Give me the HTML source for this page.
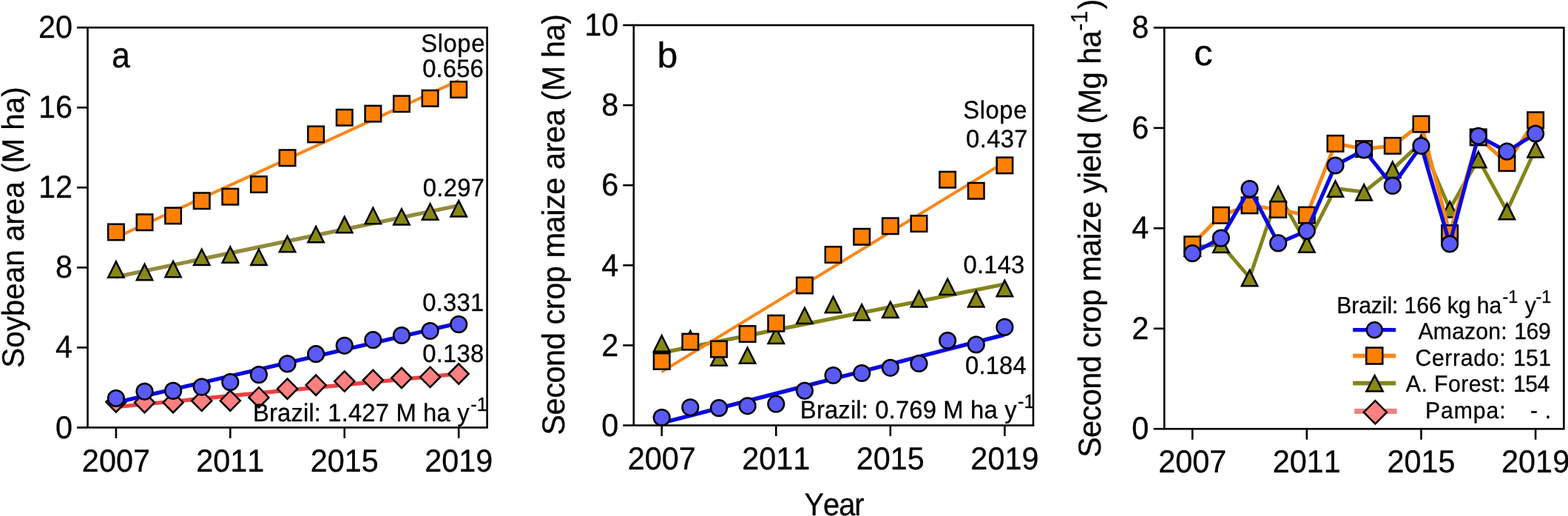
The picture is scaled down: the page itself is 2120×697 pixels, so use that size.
<!DOCTYPE html>
<html lang="en">
<head>
<meta charset="utf-8">
<title>Figure</title>
<style>html,body{margin:0;padding:0;background:#fff;}body{width:2120px;height:697px;overflow:hidden;}svg{display:block;}</style>
</head>
<body>
<svg width="2120" height="697" viewBox="0 0 2120 697" font-family='"Liberation Sans", Arial, sans-serif' fill="#000" style="font-kerning:none" text-rendering="geometricPrecision">
<style>text{stroke:#000;stroke-width:0.3px;stroke-linejoin:round}</style>
<rect width="2120" height="697" fill="#fff"/>
<g id="panel-a">
<polygon points="156.90,546.94 620.20,502.24 620.20,507.56 156.90,552.26" fill="#ee4040"/>
<polygon points="143.36,543.00 156.90,529.33 170.44,543.00 156.90,556.67" fill="#ff8080" stroke="#000" stroke-width="2.5" stroke-linejoin="miter"/>
<polygon points="181.97,543.70 195.51,530.03 209.05,543.70 195.51,557.37" fill="#ff8080" stroke="#000" stroke-width="2.5" stroke-linejoin="miter"/>
<polygon points="220.58,543.70 234.12,530.03 247.66,543.70 234.12,557.37" fill="#ff8080" stroke="#000" stroke-width="2.5" stroke-linejoin="miter"/>
<polygon points="259.18,541.40 272.73,527.73 286.27,541.40 272.73,555.07" fill="#ff8080" stroke="#000" stroke-width="2.5" stroke-linejoin="miter"/>
<polygon points="297.79,541.30 311.33,527.63 324.87,541.30 311.33,554.97" fill="#ff8080" stroke="#000" stroke-width="2.5" stroke-linejoin="miter"/>
<polygon points="336.40,536.90 349.94,523.23 363.48,536.90 349.94,550.57" fill="#ff8080" stroke="#000" stroke-width="2.5" stroke-linejoin="miter"/>
<polygon points="375.01,525.20 388.55,511.53 402.09,525.20 388.55,538.87" fill="#ff8080" stroke="#000" stroke-width="2.5" stroke-linejoin="miter"/>
<polygon points="413.62,520.20 427.16,506.53 440.70,520.20 427.16,533.87" fill="#ff8080" stroke="#000" stroke-width="2.5" stroke-linejoin="miter"/>
<polygon points="452.23,515.10 465.77,501.43 479.31,515.10 465.77,528.77" fill="#ff8080" stroke="#000" stroke-width="2.5" stroke-linejoin="miter"/>
<polygon points="490.83,513.50 504.38,499.83 517.92,513.50 504.38,527.17" fill="#ff8080" stroke="#000" stroke-width="2.5" stroke-linejoin="miter"/>
<polygon points="529.44,510.50 542.98,496.83 556.52,510.50 542.98,524.17" fill="#ff8080" stroke="#000" stroke-width="2.5" stroke-linejoin="miter"/>
<polygon points="568.05,509.40 581.59,495.73 595.13,509.40 581.59,523.07" fill="#ff8080" stroke="#000" stroke-width="2.5" stroke-linejoin="miter"/>
<polygon points="606.66,505.00 620.20,491.33 633.74,505.00 620.20,518.67" fill="#ff8080" stroke="#000" stroke-width="2.5" stroke-linejoin="miter"/>
<polygon points="156.90,371.29 620.20,274.89 620.20,280.31 156.90,376.71" fill="#938a3c"/>
<polygon points="146.22,374.75 167.58,374.75 156.90,353.40" fill="#888812" stroke="#000" stroke-width="2.5" stroke-linejoin="miter"/>
<polygon points="184.83,378.25 206.19,378.25 195.51,356.90" fill="#888812" stroke="#000" stroke-width="2.5" stroke-linejoin="miter"/>
<polygon points="223.44,374.35 244.79,374.35 234.12,353.00" fill="#888812" stroke="#000" stroke-width="2.5" stroke-linejoin="miter"/>
<polygon points="262.05,358.05 283.40,358.05 272.73,336.70" fill="#888812" stroke="#000" stroke-width="2.5" stroke-linejoin="miter"/>
<polygon points="300.66,354.85 322.01,354.85 311.33,333.50" fill="#888812" stroke="#000" stroke-width="2.5" stroke-linejoin="miter"/>
<polygon points="339.26,358.05 360.62,358.05 349.94,336.70" fill="#888812" stroke="#000" stroke-width="2.5" stroke-linejoin="miter"/>
<polygon points="377.87,340.35 399.23,340.35 388.55,319.00" fill="#888812" stroke="#000" stroke-width="2.5" stroke-linejoin="miter"/>
<polygon points="416.48,327.35 437.84,327.35 427.16,306.00" fill="#888812" stroke="#000" stroke-width="2.5" stroke-linejoin="miter"/>
<polygon points="455.09,314.25 476.44,314.25 465.77,292.90" fill="#888812" stroke="#000" stroke-width="2.5" stroke-linejoin="miter"/>
<polygon points="493.70,302.15 515.05,302.15 504.38,280.80" fill="#888812" stroke="#000" stroke-width="2.5" stroke-linejoin="miter"/>
<polygon points="532.31,303.55 553.66,303.55 542.98,282.20" fill="#888812" stroke="#000" stroke-width="2.5" stroke-linejoin="miter"/>
<polygon points="570.91,296.65 592.27,296.65 581.59,275.30" fill="#888812" stroke="#000" stroke-width="2.5" stroke-linejoin="miter"/>
<polygon points="609.52,292.45 630.88,292.45 620.20,271.10" fill="#888812" stroke="#000" stroke-width="2.5" stroke-linejoin="miter"/>
<polygon points="156.90,318.55 620.20,106.45 620.20,110.95 156.90,323.05" fill="#fa8618"/>
<rect x="146.15" y="302.75" width="21.50" height="21.50" fill="#ff8000" stroke="#000" stroke-width="2.5"/>
<rect x="184.76" y="289.55" width="21.50" height="21.50" fill="#ff8000" stroke="#000" stroke-width="2.5"/>
<rect x="223.37" y="280.65" width="21.50" height="21.50" fill="#ff8000" stroke="#000" stroke-width="2.5"/>
<rect x="261.98" y="260.55" width="21.50" height="21.50" fill="#ff8000" stroke="#000" stroke-width="2.5"/>
<rect x="300.58" y="254.95" width="21.50" height="21.50" fill="#ff8000" stroke="#000" stroke-width="2.5"/>
<rect x="339.19" y="238.35" width="21.50" height="21.50" fill="#ff8000" stroke="#000" stroke-width="2.5"/>
<rect x="377.80" y="202.55" width="21.50" height="21.50" fill="#ff8000" stroke="#000" stroke-width="2.5"/>
<rect x="416.41" y="170.65" width="21.50" height="21.50" fill="#ff8000" stroke="#000" stroke-width="2.5"/>
<rect x="455.02" y="148.05" width="21.50" height="21.50" fill="#ff8000" stroke="#000" stroke-width="2.5"/>
<rect x="493.63" y="142.85" width="21.50" height="21.50" fill="#ff8000" stroke="#000" stroke-width="2.5"/>
<rect x="532.23" y="129.55" width="21.50" height="21.50" fill="#ff8000" stroke="#000" stroke-width="2.5"/>
<rect x="570.84" y="122.05" width="21.50" height="21.50" fill="#ff8000" stroke="#000" stroke-width="2.5"/>
<rect x="609.45" y="110.25" width="21.50" height="21.50" fill="#ff8000" stroke="#000" stroke-width="2.5"/>
<polygon points="156.90,540.98 620.20,433.78 620.20,439.22 156.90,546.42" fill="#0808e0"/>
<circle cx="156.90" cy="538.00" r="10.85" fill="#5a5af6" stroke="#000" stroke-width="2.5"/>
<circle cx="195.51" cy="528.80" r="10.85" fill="#5a5af6" stroke="#000" stroke-width="2.5"/>
<circle cx="234.12" cy="527.90" r="10.85" fill="#5a5af6" stroke="#000" stroke-width="2.5"/>
<circle cx="272.73" cy="522.60" r="10.85" fill="#5a5af6" stroke="#000" stroke-width="2.5"/>
<circle cx="311.33" cy="516.20" r="10.85" fill="#5a5af6" stroke="#000" stroke-width="2.5"/>
<circle cx="349.94" cy="506.10" r="10.85" fill="#5a5af6" stroke="#000" stroke-width="2.5"/>
<circle cx="388.55" cy="491.40" r="10.85" fill="#5a5af6" stroke="#000" stroke-width="2.5"/>
<circle cx="427.16" cy="478.20" r="10.85" fill="#5a5af6" stroke="#000" stroke-width="2.5"/>
<circle cx="465.77" cy="466.80" r="10.85" fill="#5a5af6" stroke="#000" stroke-width="2.5"/>
<circle cx="504.38" cy="459.20" r="10.85" fill="#5a5af6" stroke="#000" stroke-width="2.5"/>
<circle cx="542.98" cy="453.00" r="10.85" fill="#5a5af6" stroke="#000" stroke-width="2.5"/>
<circle cx="581.59" cy="447.00" r="10.85" fill="#5a5af6" stroke="#000" stroke-width="2.5"/>
<circle cx="620.20" cy="438.10" r="10.85" fill="#5a5af6" stroke="#000" stroke-width="2.5"/>
<rect x="118.5" y="37.2" width="540.10" height="540.30" fill="none" stroke="#000" stroke-width="2.6"/>
<line x1="104.0" y1="577.50" x2="118.5" y2="577.50" stroke="#000" stroke-width="2.6"/>
<line x1="104.0" y1="469.44" x2="118.5" y2="469.44" stroke="#000" stroke-width="2.6"/>
<line x1="104.0" y1="361.38" x2="118.5" y2="361.38" stroke="#000" stroke-width="2.6"/>
<line x1="104.0" y1="253.32" x2="118.5" y2="253.32" stroke="#000" stroke-width="2.6"/>
<line x1="104.0" y1="145.26" x2="118.5" y2="145.26" stroke="#000" stroke-width="2.6"/>
<line x1="104.0" y1="37.20" x2="118.5" y2="37.20" stroke="#000" stroke-width="2.6"/>
<line x1="156.90" y1="577.5" x2="156.90" y2="592.0" stroke="#000" stroke-width="2.6"/>
<line x1="311.33" y1="577.5" x2="311.33" y2="592.0" stroke="#000" stroke-width="2.6"/>
<line x1="465.77" y1="577.5" x2="465.77" y2="592.0" stroke="#000" stroke-width="2.6"/>
<line x1="620.20" y1="577.5" x2="620.20" y2="592.0" stroke="#000" stroke-width="2.6"/>
<text transform="translate(98.00,591.50) scale(1.0,1.035)" font-size="41.4" text-anchor="end">0</text>
<text transform="translate(98.00,483.44) scale(1.0,1.035)" font-size="41.4" text-anchor="end">4</text>
<text transform="translate(98.00,375.38) scale(1.0,1.035)" font-size="41.4" text-anchor="end">8</text>
<text transform="translate(98.00,267.32) scale(1.0,1.035)" font-size="41.4" text-anchor="end">12</text>
<text transform="translate(98.00,159.26) scale(1.0,1.035)" font-size="41.4" text-anchor="end">16</text>
<text transform="translate(98.00,51.20) scale(1.0,1.035)" font-size="41.4" text-anchor="end">20</text>
<text transform="translate(156.90,637.20) scale(1.0,1.035)" font-size="41.4" text-anchor="middle">2007</text>
<text transform="translate(311.33,637.20) scale(1.0,1.035)" font-size="41.4" text-anchor="middle">2011</text>
<text transform="translate(465.77,637.20) scale(1.0,1.035)" font-size="41.4" text-anchor="middle">2015</text>
<text transform="translate(620.20,637.20) scale(1.0,1.035)" font-size="41.4" text-anchor="middle">2019</text>
<text transform="translate(31.60,496.75) rotate(-90) scale(1.0,1.035)" font-size="40.3" letter-spacing="0.047">Soybean area (M ha)</text>
<text transform="translate(151.10,91.00) scale(0.96,1.035)" font-size="46.7">a</text>
<text transform="translate(569.35,69.80) scale(1.0,1.035)" font-size="32.8" letter-spacing="0.537">Slope</text>
<text transform="translate(571.25,103.80) scale(1.0,1.035)" font-size="32.8" letter-spacing="0.113">0.656</text>
<text transform="translate(571.75,265.00) scale(1.0,1.035)" font-size="32.8" letter-spacing="0.275">0.297</text>
<text transform="translate(571.25,419.50) scale(1.0,1.035)" font-size="32.8" letter-spacing="0.250">0.331</text>
<text transform="translate(571.25,488.60) scale(1.0,1.035)" font-size="32.8" letter-spacing="0.212">0.138</text>
<text transform="translate(341.95,569.30) scale(1.0,1.035)" font-size="32.8" letter-spacing="0.145">Brazil: 1.427 M ha y</text>
<text transform="translate(636.35,555.40) scale(1.0,1.035)" font-size="25.3">-1</text>
</g>
<g id="panel-b">
<polygon points="894.70,473.80 1358.40,381.20 1358.40,386.60 894.70,479.20" fill="#84841a"/>
<polygon points="884.02,474.65 905.38,474.65 894.70,453.30" fill="#888812" stroke="#000" stroke-width="2.5" stroke-linejoin="miter"/>
<polygon points="922.66,468.45 944.02,468.45 933.34,447.10" fill="#888812" stroke="#000" stroke-width="2.5" stroke-linejoin="miter"/>
<polygon points="961.31,493.65 982.66,493.65 971.98,472.30" fill="#888812" stroke="#000" stroke-width="2.5" stroke-linejoin="miter"/>
<polygon points="999.95,490.85 1021.30,490.85 1010.62,469.50" fill="#888812" stroke="#000" stroke-width="2.5" stroke-linejoin="miter"/>
<polygon points="1038.59,464.05 1059.94,464.05 1049.27,442.70" fill="#888812" stroke="#000" stroke-width="2.5" stroke-linejoin="miter"/>
<polygon points="1077.23,437.05 1098.59,437.05 1087.91,415.70" fill="#888812" stroke="#000" stroke-width="2.5" stroke-linejoin="miter"/>
<polygon points="1115.87,422.15 1137.23,422.15 1126.55,400.80" fill="#888812" stroke="#000" stroke-width="2.5" stroke-linejoin="miter"/>
<polygon points="1154.51,432.55 1175.87,432.55 1165.19,411.20" fill="#888812" stroke="#000" stroke-width="2.5" stroke-linejoin="miter"/>
<polygon points="1193.16,429.05 1214.51,429.05 1203.83,407.70" fill="#888812" stroke="#000" stroke-width="2.5" stroke-linejoin="miter"/>
<polygon points="1231.80,414.45 1253.15,414.45 1242.48,393.10" fill="#888812" stroke="#000" stroke-width="2.5" stroke-linejoin="miter"/>
<polygon points="1270.44,398.05 1291.79,398.05 1281.12,376.70" fill="#888812" stroke="#000" stroke-width="2.5" stroke-linejoin="miter"/>
<polygon points="1309.08,414.45 1330.44,414.45 1319.76,393.10" fill="#888812" stroke="#000" stroke-width="2.5" stroke-linejoin="miter"/>
<polygon points="1347.72,400.25 1369.08,400.25 1358.40,378.90" fill="#888812" stroke="#000" stroke-width="2.5" stroke-linejoin="miter"/>
<polygon points="894.70,499.86 1358.40,216.86 1358.40,221.54 894.70,504.54" fill="#fa8618"/>
<rect x="883.95" y="477.25" width="21.50" height="21.50" fill="#ff8000" stroke="#000" stroke-width="2.5"/>
<rect x="922.59" y="450.95" width="21.50" height="21.50" fill="#ff8000" stroke="#000" stroke-width="2.5"/>
<rect x="961.23" y="460.85" width="21.50" height="21.50" fill="#ff8000" stroke="#000" stroke-width="2.5"/>
<rect x="999.88" y="440.35" width="21.50" height="21.50" fill="#ff8000" stroke="#000" stroke-width="2.5"/>
<rect x="1038.52" y="426.05" width="21.50" height="21.50" fill="#ff8000" stroke="#000" stroke-width="2.5"/>
<rect x="1077.16" y="374.75" width="21.50" height="21.50" fill="#ff8000" stroke="#000" stroke-width="2.5"/>
<rect x="1115.80" y="333.25" width="21.50" height="21.50" fill="#ff8000" stroke="#000" stroke-width="2.5"/>
<rect x="1154.44" y="309.05" width="21.50" height="21.50" fill="#ff8000" stroke="#000" stroke-width="2.5"/>
<rect x="1193.08" y="294.55" width="21.50" height="21.50" fill="#ff8000" stroke="#000" stroke-width="2.5"/>
<rect x="1231.73" y="291.35" width="21.50" height="21.50" fill="#ff8000" stroke="#000" stroke-width="2.5"/>
<rect x="1270.37" y="231.95" width="21.50" height="21.50" fill="#ff8000" stroke="#000" stroke-width="2.5"/>
<rect x="1309.01" y="247.05" width="21.50" height="21.50" fill="#ff8000" stroke="#000" stroke-width="2.5"/>
<rect x="1347.65" y="212.65" width="21.50" height="21.50" fill="#ff8000" stroke="#000" stroke-width="2.5"/>
<polygon points="894.70,568.51 1358.40,449.31 1358.40,454.89 894.70,574.09" fill="#0808e0"/>
<circle cx="894.70" cy="564.00" r="10.85" fill="#5a5af6" stroke="#000" stroke-width="2.5"/>
<circle cx="933.34" cy="550.30" r="10.85" fill="#5a5af6" stroke="#000" stroke-width="2.5"/>
<circle cx="971.98" cy="551.20" r="10.85" fill="#5a5af6" stroke="#000" stroke-width="2.5"/>
<circle cx="1010.62" cy="548.30" r="10.85" fill="#5a5af6" stroke="#000" stroke-width="2.5"/>
<circle cx="1049.27" cy="545.70" r="10.85" fill="#5a5af6" stroke="#000" stroke-width="2.5"/>
<circle cx="1087.91" cy="527.80" r="10.85" fill="#5a5af6" stroke="#000" stroke-width="2.5"/>
<circle cx="1126.55" cy="507.00" r="10.85" fill="#5a5af6" stroke="#000" stroke-width="2.5"/>
<circle cx="1165.19" cy="504.00" r="10.85" fill="#5a5af6" stroke="#000" stroke-width="2.5"/>
<circle cx="1203.83" cy="496.80" r="10.85" fill="#5a5af6" stroke="#000" stroke-width="2.5"/>
<circle cx="1242.48" cy="491.00" r="10.85" fill="#5a5af6" stroke="#000" stroke-width="2.5"/>
<circle cx="1281.12" cy="460.00" r="10.85" fill="#5a5af6" stroke="#000" stroke-width="2.5"/>
<circle cx="1319.76" cy="465.50" r="10.85" fill="#5a5af6" stroke="#000" stroke-width="2.5"/>
<circle cx="1358.40" cy="441.90" r="10.85" fill="#5a5af6" stroke="#000" stroke-width="2.5"/>
<rect x="856.8" y="34.0" width="540.20" height="540.60" fill="none" stroke="#000" stroke-width="2.6"/>
<line x1="842.3" y1="574.60" x2="856.8" y2="574.60" stroke="#000" stroke-width="2.6"/>
<line x1="842.3" y1="466.48" x2="856.8" y2="466.48" stroke="#000" stroke-width="2.6"/>
<line x1="842.3" y1="358.36" x2="856.8" y2="358.36" stroke="#000" stroke-width="2.6"/>
<line x1="842.3" y1="250.24" x2="856.8" y2="250.24" stroke="#000" stroke-width="2.6"/>
<line x1="842.3" y1="142.12" x2="856.8" y2="142.12" stroke="#000" stroke-width="2.6"/>
<line x1="842.3" y1="34.00" x2="856.8" y2="34.00" stroke="#000" stroke-width="2.6"/>
<line x1="894.70" y1="574.6" x2="894.70" y2="589.1" stroke="#000" stroke-width="2.6"/>
<line x1="1049.27" y1="574.6" x2="1049.27" y2="589.1" stroke="#000" stroke-width="2.6"/>
<line x1="1203.83" y1="574.6" x2="1203.83" y2="589.1" stroke="#000" stroke-width="2.6"/>
<line x1="1358.40" y1="574.6" x2="1358.40" y2="589.1" stroke="#000" stroke-width="2.6"/>
<text transform="translate(836.20,588.80) scale(1.0,1.035)" font-size="41.4" text-anchor="end">0</text>
<text transform="translate(836.20,480.68) scale(1.0,1.035)" font-size="41.4" text-anchor="end">2</text>
<text transform="translate(836.20,372.56) scale(1.0,1.035)" font-size="41.4" text-anchor="end">4</text>
<text transform="translate(836.20,264.44) scale(1.0,1.035)" font-size="41.4" text-anchor="end">6</text>
<text transform="translate(836.20,156.32) scale(1.0,1.035)" font-size="41.4" text-anchor="end">8</text>
<text transform="translate(836.20,48.20) scale(1.0,1.035)" font-size="41.4" text-anchor="end">10</text>
<text transform="translate(894.70,633.90) scale(1.0,1.035)" font-size="41.4" text-anchor="middle">2007</text>
<text transform="translate(1049.27,633.90) scale(1.0,1.035)" font-size="41.4" text-anchor="middle">2011</text>
<text transform="translate(1203.83,633.90) scale(1.0,1.035)" font-size="41.4" text-anchor="middle">2015</text>
<text transform="translate(1358.40,633.90) scale(1.0,1.035)" font-size="41.4" text-anchor="middle">2019</text>
<text transform="translate(763.10,587.65) rotate(-90) scale(1.0,1.035)" font-size="41.4" letter-spacing="-0.393">Second crop maize area (M ha)</text>
<text transform="translate(888.60,90.50) scale(1.07,1.035)" font-size="46.7">b</text>
<text transform="translate(1302.20,159.80) scale(1.0,1.035)" font-size="32.8" letter-spacing="0.575">Slope</text>
<text transform="translate(1306.10,199.40) scale(1.0,1.035)" font-size="32.8" letter-spacing="0.350">0.437</text>
<text transform="translate(1302.45,368.90) scale(1.0,1.035)" font-size="32.8" letter-spacing="0.200">0.143</text>
<text transform="translate(1305.10,505.30) scale(1.0,1.035)" font-size="32.8" letter-spacing="0.113">0.184</text>
<text transform="translate(1081.85,565.10) scale(1.0,1.035)" font-size="32.8" letter-spacing="0.150">Brazil: 0.769 M ha y</text>
<text transform="translate(1376.00,551.00) scale(1.0,1.035)" font-size="25.3">-1</text>
<text transform="translate(1087.40,696.00) scale(0.962,1.035)" font-size="41.4" letter-spacing="-1.000">Year</text>
</g>
<g id="panel-c">
<polyline points="1612.20,334.40 1650.86,329.80 1689.52,375.00 1728.17,261.80 1766.83,329.50 1805.49,254.60 1844.15,259.30 1882.81,228.70 1921.47,192.60 1960.12,282.30 1998.78,215.00 2037.44,285.10 2076.10,201.20" fill="none" stroke="#84841a" stroke-width="5.0" stroke-linejoin="round" stroke-linecap="butt"/>
<polygon points="1601.52,345.65 1622.88,345.65 1612.20,324.30" fill="#888812" stroke="#000" stroke-width="2.5" stroke-linejoin="miter"/>
<polygon points="1640.18,341.05 1661.54,341.05 1650.86,319.70" fill="#888812" stroke="#000" stroke-width="2.5" stroke-linejoin="miter"/>
<polygon points="1678.84,386.25 1700.19,386.25 1689.52,364.90" fill="#888812" stroke="#000" stroke-width="2.5" stroke-linejoin="miter"/>
<polygon points="1717.50,273.05 1738.85,273.05 1728.17,251.70" fill="#888812" stroke="#000" stroke-width="2.5" stroke-linejoin="miter"/>
<polygon points="1756.16,340.75 1777.51,340.75 1766.83,319.40" fill="#888812" stroke="#000" stroke-width="2.5" stroke-linejoin="miter"/>
<polygon points="1794.81,265.85 1816.17,265.85 1805.49,244.50" fill="#888812" stroke="#000" stroke-width="2.5" stroke-linejoin="miter"/>
<polygon points="1833.47,270.55 1854.83,270.55 1844.15,249.20" fill="#888812" stroke="#000" stroke-width="2.5" stroke-linejoin="miter"/>
<polygon points="1872.13,239.95 1893.49,239.95 1882.81,218.60" fill="#888812" stroke="#000" stroke-width="2.5" stroke-linejoin="miter"/>
<polygon points="1910.79,203.85 1932.14,203.85 1921.47,182.50" fill="#888812" stroke="#000" stroke-width="2.5" stroke-linejoin="miter"/>
<polygon points="1949.45,293.55 1970.80,293.55 1960.12,272.20" fill="#888812" stroke="#000" stroke-width="2.5" stroke-linejoin="miter"/>
<polygon points="1988.11,226.25 2009.46,226.25 1998.78,204.90" fill="#888812" stroke="#000" stroke-width="2.5" stroke-linejoin="miter"/>
<polygon points="2026.76,296.35 2048.12,296.35 2037.44,275.00" fill="#888812" stroke="#000" stroke-width="2.5" stroke-linejoin="miter"/>
<polygon points="2065.42,212.45 2086.78,212.45 2076.10,191.10" fill="#888812" stroke="#000" stroke-width="2.5" stroke-linejoin="miter"/>
<polyline points="1612.20,330.30 1650.86,290.80 1689.52,277.40 1728.17,283.00 1766.83,290.60 1805.49,193.90 1844.15,201.20 1882.81,196.90 1921.47,167.60 1960.12,315.10 1998.78,185.40 2037.44,220.20 2076.10,162.30" fill="none" stroke="#fa8618" stroke-width="5.0" stroke-linejoin="round" stroke-linecap="butt"/>
<rect x="1601.45" y="319.55" width="21.50" height="21.50" fill="#ff8000" stroke="#000" stroke-width="2.5"/>
<rect x="1640.11" y="280.05" width="21.50" height="21.50" fill="#ff8000" stroke="#000" stroke-width="2.5"/>
<rect x="1678.77" y="266.65" width="21.50" height="21.50" fill="#ff8000" stroke="#000" stroke-width="2.5"/>
<rect x="1717.42" y="272.25" width="21.50" height="21.50" fill="#ff8000" stroke="#000" stroke-width="2.5"/>
<rect x="1756.08" y="279.85" width="21.50" height="21.50" fill="#ff8000" stroke="#000" stroke-width="2.5"/>
<rect x="1794.74" y="183.15" width="21.50" height="21.50" fill="#ff8000" stroke="#000" stroke-width="2.5"/>
<rect x="1833.40" y="190.45" width="21.50" height="21.50" fill="#ff8000" stroke="#000" stroke-width="2.5"/>
<rect x="1872.06" y="186.15" width="21.50" height="21.50" fill="#ff8000" stroke="#000" stroke-width="2.5"/>
<rect x="1910.72" y="156.85" width="21.50" height="21.50" fill="#ff8000" stroke="#000" stroke-width="2.5"/>
<rect x="1949.38" y="304.35" width="21.50" height="21.50" fill="#ff8000" stroke="#000" stroke-width="2.5"/>
<rect x="1988.03" y="174.65" width="21.50" height="21.50" fill="#ff8000" stroke="#000" stroke-width="2.5"/>
<rect x="2026.69" y="209.45" width="21.50" height="21.50" fill="#ff8000" stroke="#000" stroke-width="2.5"/>
<rect x="2065.35" y="151.55" width="21.50" height="21.50" fill="#ff8000" stroke="#000" stroke-width="2.5"/>
<polyline points="1612.20,342.20 1650.86,321.60 1689.52,255.10 1728.17,328.40 1766.83,311.80 1805.49,223.50 1844.15,202.50 1882.81,250.90 1921.47,197.00 1960.12,329.50 1998.78,183.80 2037.44,204.60 2076.10,180.50" fill="none" stroke="#0808e0" stroke-width="5.2" stroke-linejoin="round" stroke-linecap="butt"/>
<circle cx="1612.20" cy="342.20" r="10.85" fill="#5a5af6" stroke="#000" stroke-width="2.5"/>
<circle cx="1650.86" cy="321.60" r="10.85" fill="#5a5af6" stroke="#000" stroke-width="2.5"/>
<circle cx="1689.52" cy="255.10" r="10.85" fill="#5a5af6" stroke="#000" stroke-width="2.5"/>
<circle cx="1728.17" cy="328.40" r="10.85" fill="#5a5af6" stroke="#000" stroke-width="2.5"/>
<circle cx="1766.83" cy="311.80" r="10.85" fill="#5a5af6" stroke="#000" stroke-width="2.5"/>
<circle cx="1805.49" cy="223.50" r="10.85" fill="#5a5af6" stroke="#000" stroke-width="2.5"/>
<circle cx="1844.15" cy="202.50" r="10.85" fill="#5a5af6" stroke="#000" stroke-width="2.5"/>
<circle cx="1882.81" cy="250.90" r="10.85" fill="#5a5af6" stroke="#000" stroke-width="2.5"/>
<circle cx="1921.47" cy="197.00" r="10.85" fill="#5a5af6" stroke="#000" stroke-width="2.5"/>
<circle cx="1960.12" cy="329.50" r="10.85" fill="#5a5af6" stroke="#000" stroke-width="2.5"/>
<circle cx="1998.78" cy="183.80" r="10.85" fill="#5a5af6" stroke="#000" stroke-width="2.5"/>
<circle cx="2037.44" cy="204.60" r="10.85" fill="#5a5af6" stroke="#000" stroke-width="2.5"/>
<circle cx="2076.10" cy="180.50" r="10.85" fill="#5a5af6" stroke="#000" stroke-width="2.5"/>
<rect x="1574.2" y="37.4" width="540.20" height="541.90" fill="none" stroke="#000" stroke-width="2.6"/>
<line x1="1559.7" y1="579.30" x2="1574.2" y2="579.30" stroke="#000" stroke-width="2.6"/>
<line x1="1559.7" y1="443.82" x2="1574.2" y2="443.82" stroke="#000" stroke-width="2.6"/>
<line x1="1559.7" y1="308.35" x2="1574.2" y2="308.35" stroke="#000" stroke-width="2.6"/>
<line x1="1559.7" y1="172.88" x2="1574.2" y2="172.88" stroke="#000" stroke-width="2.6"/>
<line x1="1559.7" y1="37.40" x2="1574.2" y2="37.40" stroke="#000" stroke-width="2.6"/>
<line x1="1612.20" y1="579.3" x2="1612.20" y2="593.8" stroke="#000" stroke-width="2.6"/>
<line x1="1766.83" y1="579.3" x2="1766.83" y2="593.8" stroke="#000" stroke-width="2.6"/>
<line x1="1921.47" y1="579.3" x2="1921.47" y2="593.8" stroke="#000" stroke-width="2.6"/>
<line x1="2076.10" y1="579.3" x2="2076.10" y2="593.8" stroke="#000" stroke-width="2.6"/>
<text transform="translate(1553.40,593.30) scale(1.0,1.035)" font-size="41.4" text-anchor="end">0</text>
<text transform="translate(1553.40,457.82) scale(1.0,1.035)" font-size="41.4" text-anchor="end">2</text>
<text transform="translate(1553.40,322.35) scale(1.0,1.035)" font-size="41.4" text-anchor="end">4</text>
<text transform="translate(1553.40,186.88) scale(1.0,1.035)" font-size="41.4" text-anchor="end">6</text>
<text transform="translate(1553.40,51.40) scale(1.0,1.035)" font-size="41.4" text-anchor="end">8</text>
<text transform="translate(1612.20,638.00) scale(1.0,1.035)" font-size="41.4" text-anchor="middle">2007</text>
<text transform="translate(1766.83,638.00) scale(1.0,1.035)" font-size="41.4" text-anchor="middle">2011</text>
<text transform="translate(1921.47,638.00) scale(1.0,1.035)" font-size="41.4" text-anchor="middle">2015</text>
<text transform="translate(2076.10,638.00) scale(1.0,1.035)" font-size="41.4" text-anchor="middle">2019</text>
<text transform="translate(1487.70,618.10) rotate(-90) scale(1.0,1.035)" font-size="41.4" letter-spacing="-0.496">Second crop maize yield (Mg ha</text>
<text transform="translate(1469.80,41.65) rotate(-90) scale(1.0,1.035)" font-size="30.5">-1</text>
<text transform="translate(1487.70,12.60) rotate(-90) scale(1.0,1.035)" font-size="41.4">)</text>
<text transform="translate(1614.15,88.40) scale(1.09,1.035)" font-size="46.7">c</text>
<text transform="translate(1807.25,422.60) scale(1.0,1.035)" font-size="30.2" letter-spacing="-0.119">Brazil: 166 kg ha</text>
<text transform="translate(2031.50,409.40) scale(1.0,1.035)" font-size="23.5">-1</text>
<text transform="translate(2061.65,422.60) scale(1.0,1.035)" font-size="30.2">y</text>
<text transform="translate(2076.40,409.40) scale(1.0,1.035)" font-size="23.5">-1</text>
<polyline points="1829.20,445.70 1887.20,445.70" fill="none" stroke="#0808e0" stroke-width="5.3" stroke-linejoin="round" stroke-linecap="butt"/>
<circle cx="1858.30" cy="445.70" r="10.45" fill="#5a5af6" stroke="#000" stroke-width="2.5"/>
<polyline points="1829.20,480.60 1887.20,480.60" fill="none" stroke="#fa8618" stroke-width="5.8" stroke-linejoin="round" stroke-linecap="butt"/>
<rect x="1847.30" y="469.60" width="22.00" height="22.00" fill="#ff8000" stroke="#000" stroke-width="2.5"/>
<polyline points="1829.20,517.60 1887.20,517.60" fill="none" stroke="#84841a" stroke-width="5.8" stroke-linejoin="round" stroke-linecap="butt"/>
<polygon points="1847.46,528.55 1869.74,528.55 1858.60,507.11" fill="#888812" stroke="#000" stroke-width="2.5" stroke-linejoin="miter"/>
<polyline points="1831.20,555.50 1888.60,555.50" fill="none" stroke="#f08282" stroke-width="7.0" stroke-linejoin="round" stroke-linecap="butt"/>
<polygon points="1843.86,556.90 1859.40,541.23 1874.94,556.90 1859.40,572.57" fill="#ff8080" stroke="#000" stroke-width="2.5" stroke-linejoin="miter"/>
<text transform="translate(1917.55,458.30) scale(1.0,1.035)" font-size="30.2" letter-spacing="0.159">Amazon:</text>
<text transform="translate(2047.15,458.30) scale(1.0,1.035)" font-size="30.2" letter-spacing="-0.325">169</text>
<text transform="translate(1913.40,494.00) scale(1.0,1.035)" font-size="30.2" letter-spacing="0.692">Cerrado:</text>
<text transform="translate(2045.95,494.00) scale(1.0,1.035)" font-size="30.2" letter-spacing="0.300">151</text>
<text transform="translate(1900.85,529.20) scale(1.0,1.035)" font-size="30.2" letter-spacing="0.433">A. Forest:</text>
<text transform="translate(2045.95,529.20) scale(1.0,1.035)" font-size="30.2" letter-spacing="-0.575">154</text>
<text transform="translate(1927.05,565.00) scale(1.0,1.035)" font-size="30.2" letter-spacing="0.890">Pampa:</text>
<text transform="translate(2069.10,565.00) scale(1.0,1.035)" font-size="30.2">-</text>
<text transform="translate(2088.65,565.00) scale(1.0,1.035)" font-size="30.2">.</text>
</g>
</svg>
</body>
</html>
